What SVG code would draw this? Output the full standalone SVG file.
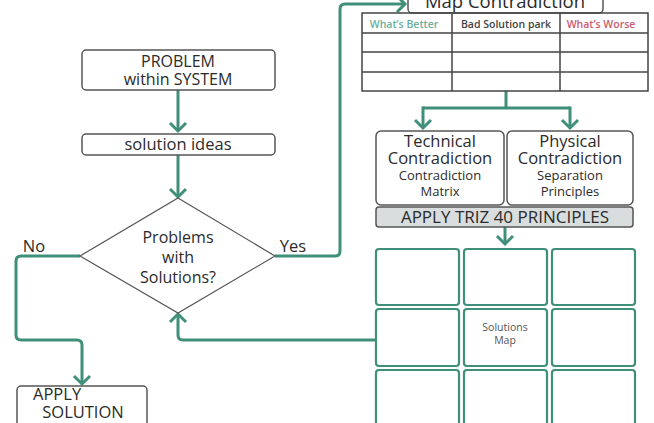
<svg xmlns="http://www.w3.org/2000/svg" width="654" height="423" viewBox="0 0 654 423">
<defs>
<style>
.box{fill:#fff;stroke:#555;stroke-width:1.5}
.cell{fill:#fff;stroke:#3f8f7a;stroke-width:2.2}
.con{fill:none;stroke:#3f8f7a;stroke-width:3}
.t{font-family:"Open Sans","Liberation Sans",sans-serif;fill:#2b2b2b;text-anchor:middle}
.grid{fill:none;stroke:#444;stroke-width:1.5}
</style>
<marker id="ah" viewBox="-10 -10 20 20" refX="0" refY="0" markerWidth="20" markerHeight="20" markerUnits="userSpaceOnUse" orient="auto">
<path d="M-8,-8 L0,0 L-8,8" fill="none" stroke="#3f8f7a" stroke-width="3"/>
</marker>
</defs>
<rect width="654" height="423" fill="#fff"/>

<g id="connectors">
<path class="con" d="M178,90 V131" marker-end="url(#ah)"/>
<path class="con" d="M178,155 V197" marker-end="url(#ah)"/>
<path class="con" d="M275,256 H335 Q340,256 340,251 V9 Q340,4 345,4 H405" marker-end="url(#ah)"/>
<path class="con" d="M80,256 H21 Q16,256 16,261 V335 Q16,340 21,340 H77 Q82,340 82,345 V384" marker-end="url(#ah)"/>
<path class="con" d="M506,91 V108 M423,108 H570"/>
<path class="con" d="M423,106.5 V128" marker-end="url(#ah)"/>
<path class="con" d="M570,106.5 V128" marker-end="url(#ah)"/>
<path class="con" d="M505,227 V244" marker-end="url(#ah)"/>
<path class="con" d="M376,340 H183 Q178,340 178,335 V314" marker-end="url(#ah)"/>
</g>

<g id="problem">
<rect class="box" x="82" y="50" width="193" height="40" rx="4"/>
<text class="t" x="178" y="67" font-size="16">PROBLEM</text>
<text class="t" x="178" y="85" font-size="16">within SYSTEM</text>
</g>

<g id="solution-ideas">
<rect class="box" x="82" y="134" width="193" height="21" rx="4"/>
<text class="t" x="178" y="150" font-size="16.5">solution ideas</text>
</g>

<g id="decision">
<polygon points="178,198 275,256 178,313 80,256" fill="#fff" stroke="#555" stroke-width="1.2"/>
<text class="t" x="178" y="243" font-size="16">Problems</text>
<text class="t" x="178" y="263" font-size="16">with</text>
<text class="t" x="178" y="283" font-size="16">Solutions?</text>
</g>
<text class="t" x="34" y="252" font-size="16.5">No</text>
<text class="t" x="293" y="252" font-size="16.5">Yes</text>

<g id="apply-solution">
<rect class="box" x="17" y="386" width="130" height="50" rx="4"/>
<text class="t" x="33" y="400" font-size="16.5" style="text-anchor:start">APPLY</text>
<text class="t" x="83" y="418" font-size="16.5">SOLUTION</text>
</g>

<g id="map-contradiction">
<rect class="box" x="408" y="-15" width="195" height="28" rx="4"/>
<text class="t" x="505" y="8" font-size="18.5">Map Contradiction</text>
</g>

<g id="table">
<rect class="grid" x="362" y="13" width="286" height="78"/>
<path class="grid" d="M452,13 V91 M560,13 V91 M362,33 H648 M362,52 H648 M362,72 H648"/>
<text class="t" x="404" y="28" font-size="10.5" font-weight="600" style="fill:#6aae9c">What’s Better</text>
<text class="t" x="506" y="28" font-size="10.5" font-weight="600" style="fill:#444">Bad Solution park</text>
<text class="t" x="601" y="28" font-size="10.5" font-weight="600" style="fill:#cc5a70">What’s Worse</text>
</g>

<g id="technical">
<rect class="box" x="376" y="131" width="128" height="74" rx="5"/>
<text class="t" x="440" y="147" font-size="16.5">Technical</text>
<text class="t" x="440" y="164" font-size="16.5">Contradiction</text>
<text class="t" x="440" y="180" font-size="13">Contradiction</text>
<text class="t" x="440" y="196" font-size="13">Matrix</text>
</g>

<g id="physical">
<rect class="box" x="507" y="131" width="126" height="74" rx="5"/>
<text class="t" x="570" y="147" font-size="16.5">Physical</text>
<text class="t" x="570" y="164" font-size="16.5">Contradiction</text>
<text class="t" x="570" y="180" font-size="13">Separation</text>
<text class="t" x="570" y="196" font-size="13">Principles</text>
</g>

<g id="apply-triz">
<rect x="376" y="207" width="257" height="20" rx="3" fill="#d9dddd" stroke="#555" stroke-width="1.5"/>
<text class="t" x="505" y="223" font-size="17">APPLY TRIZ 40 PRINCIPLES</text>
</g>

<g id="solutions-map">
<rect class="cell" x="376" y="249" width="83" height="56" rx="3"/>
<rect class="cell" x="464" y="249" width="83" height="56" rx="3"/>
<rect class="cell" x="552" y="249" width="83" height="56" rx="3"/>
<rect class="cell" x="376" y="309" width="83" height="57" rx="3"/>
<rect class="cell" x="464" y="309" width="83" height="57" rx="3"/>
<rect class="cell" x="552" y="309" width="83" height="57" rx="3"/>
<rect class="cell" x="376" y="370" width="83" height="60" rx="3"/>
<rect class="cell" x="464" y="370" width="83" height="60" rx="3"/>
<rect class="cell" x="552" y="370" width="83" height="60" rx="3"/>
<text class="t" x="505" y="331" font-size="10.5" style="fill:#555">Solutions</text>
<text class="t" x="505" y="344" font-size="10.5" style="fill:#555">Map</text>
</g>
</svg>
